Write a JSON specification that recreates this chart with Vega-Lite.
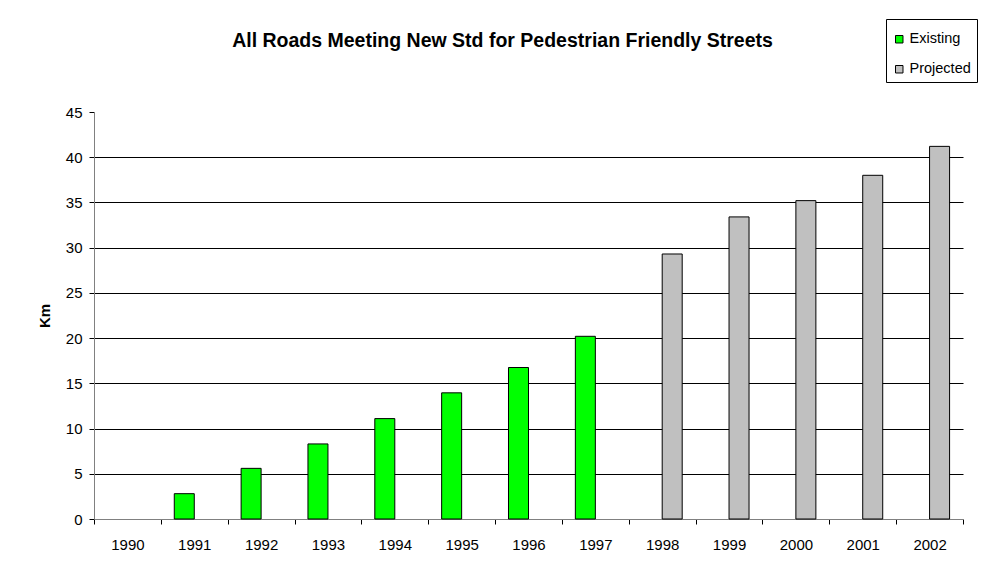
{
  "$schema": "https://vega.github.io/schema/vega-lite/v6.json",
  "width": 869,
  "height": 407,
  "autosize": {"type": "none"},
  "padding": {"left": 94, "top": 112, "right": 19, "bottom": 62},
  "background": "white",
  "config": {
    "view": {"stroke": null},
    "font": "Liberation Sans",
    "axis": {"labelFont": "Liberation Sans", "titleFont": "Liberation Sans"}
  },
  "title": {
    "text": "All Roads Meeting New Std for Pedestrian Friendly Streets",
    "font": "Liberation Sans",
    "fontSize": 19.5,
    "fontWeight": "bold",
    "color": "black",
    "frame": "group",
    "anchor": "middle",
    "dx": -26,
    "baseline": "alphabetic",
    "offset": -48
  },
  "data": {
    "values": [
      {"year": "1991", "series": "Existing", "km": 2.8},
      {"year": "1992", "series": "Existing", "km": 5.6},
      {"year": "1993", "series": "Existing", "km": 8.3},
      {"year": "1994", "series": "Existing", "km": 11.1},
      {"year": "1995", "series": "Existing", "km": 13.95},
      {"year": "1996", "series": "Existing", "km": 16.75},
      {"year": "1997", "series": "Existing", "km": 20.2},
      {"year": "1998", "series": "Projected", "km": 29.3},
      {"year": "1999", "series": "Projected", "km": 33.4},
      {"year": "2000", "series": "Projected", "km": 35.2},
      {"year": "2001", "series": "Projected", "km": 38.0},
      {"year": "2002", "series": "Projected", "km": 41.2}
    ]
  },
  "mark": {"type": "bar", "stroke": "black", "strokeWidth": 1},
  "encoding": {
    "x": {
      "field": "year",
      "type": "nominal",
      "scale": {
        "domain": ["1990","1991","1992","1993","1994","1995","1996","1997","1998","1999","2000","2001","2002"],
        "paddingInner": 0,
        "paddingOuter": 0
      },
      "axis": {
        "title": null,
        "labelAngle": 0,
        "tickBand": "extent",
        "tickSize": 5,
        "tickColor": "black",
        "domainColor": "#808080",
        "labelFontSize": 15,
        "labelColor": "black",
        "labelPadding": 13,
        "grid": false
      }
    },
    "xOffset": {
      "field": "series",
      "type": "nominal",
      "scale": {"domain": ["Existing", "Projected"], "paddingInner": 0, "paddingOuter": 0.671}
    },
    "y": {
      "field": "km",
      "type": "quantitative",
      "scale": {"domain": [0, 45], "nice": false},
      "axis": {
        "values": [0, 5, 10, 15, 20, 25, 30, 35, 40, 45],
        "title": "Km",
        "titleFontSize": 15,
        "titleFontWeight": "bold",
        "titleColor": "black",
        "titlePadding": 13,
        "tickSize": 5,
        "tickColor": "black",
        "domainColor": "#808080",
        "labelFontSize": 15,
        "labelColor": "black",
        "labelPadding": 7,
        "grid": true,
        "gridColor": "black",
        "gridOpacity": {"condition": {"test": "datum.value == 45 || datum.value == 0", "value": 0}, "value": 1}
      }
    },
    "color": {
      "field": "series",
      "type": "nominal",
      "scale": {"domain": ["Existing", "Projected"], "range": ["#00FF00", "#C0C0C0"]},
      "legend": {
        "title": " ",
        "titleFontSize": 7,
        "titlePadding": 0,
        "orient": "none",
        "legendX": 792,
        "legendY": -93,
        "strokeColor": "black",
        "fillColor": "white",
        "padding": 6,
        "rowPadding": 15,
        "symbolType": "square",
        "symbolSize": 56,
        "symbolStrokeColor": "black",
        "symbolStrokeWidth": 1,
        "symbolOpacity": 1,
        "labelFontSize": 14.5,
        "labelColor": "black",
        "labelOffset": 3,
        "labelFont": "Liberation Sans"
      }
    }
  }
}
